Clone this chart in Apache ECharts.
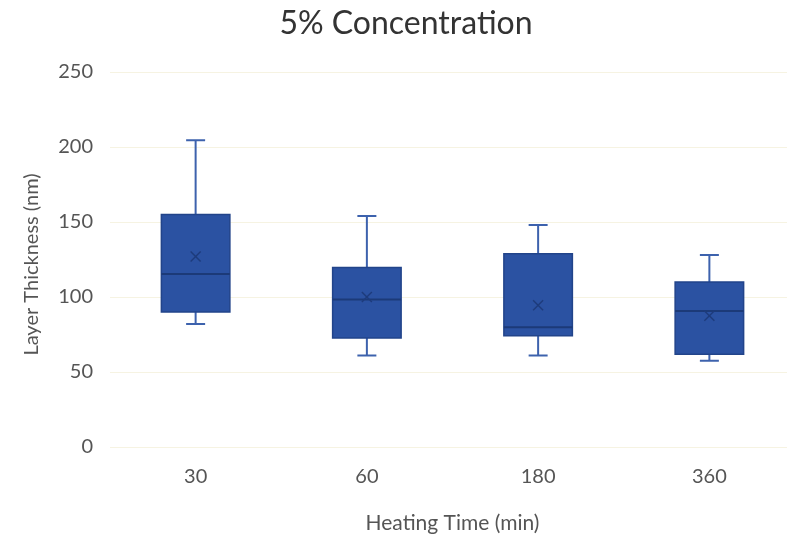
<!DOCTYPE html>
<html>
<head>
<meta charset="utf-8">
<script src="https://cdn.jsdelivr.net/npm/echarts@6/dist/echarts.min.js"></script>
<style>html,body{margin:0;padding:0;background:#fff;}#c{width:787px;height:538px;}</style>
</head>
<body>
<div id="c"></div>
<script>
const categories = ['30', '60', '180', '360'];
const whiskerLow = [82, 61, 61, 57.5];
const q1 = [90, 72.7, 74.2, 61.8];
const median = [115.3, 98.4, 79.8, 90.7];
const q3 = [155, 119.6, 128.9, 110];
const whiskerHigh = [204.5, 154, 148, 128];
const mean = [127, 100, 94.5, 87.5];
const yTicks = [0, 50, 100, 150, 200, 250];

const data = categories.map((c, i) => [i, whiskerLow[i], q1[i], median[i], q3[i], whiskerHigh[i], mean[i]]);

const chart = echarts.init(document.getElementById('c'));
const font = 'Lato, "Open Sans", sans-serif';
chart.setOption({
  animation: false,
  backgroundColor: '#fff',
  title: {
    text: '5% Concentration', left: 401, textAlign: 'center', top: 3,
    textStyle: { fontFamily: font, fontSize: 32, fontWeight: 'normal', color: '#333' }
  },
  grid: { left: 110, width: 685, top: 72, height: 375, outerBoundsMode: 'none', containLabel: false },
  xAxis: {
    type: 'category', data: categories,
    axisLine: { show: false }, axisTick: { show: false },
    axisLabel: { margin: 20, fontFamily: font, fontSize: 20, color: '#555' },
    name: 'Heating Time (min)', nameLocation: 'middle', nameGap: 66,
    nameTextStyle: { fontFamily: font, fontSize: 21, color: '#555' }
  },
  yAxis: {
    type: 'value', min: yTicks[0], max: yTicks[yTicks.length - 1], interval: 50,
    axisLine: { show: false }, axisTick: { show: false },
    axisLabel: { margin: 17, fontFamily: font, fontSize: 20, color: '#555' },
    splitLine: { lineStyle: { color: '#f6f3e2', width: 1 } },
    name: 'Layer Thickness (nm)', nameLocation: 'middle', nameGap: 68,
    nameTextStyle: { fontFamily: font, fontSize: 20, color: '#555', padding: [0, 10, 0, 0] }
  },
  series: [{
    type: 'custom',
    data: data,
    encode: { x: 0, y: [1, 2, 3, 4, 5, 6] },
    renderItem: function (params, api) {
      const idx = api.value(0);
      const cx = api.coord([idx, 0])[0];
      const bw = api.size([1, 0])[0] * 0.4;
      const cap = 19;
      const y = k => api.coord([idx, api.value(k)])[1];
      const yLow = y(1), yQ1 = y(2), yMed = y(3), yQ3 = y(4), yHigh = y(5), yMean = y(6);
      const wc = '#3d62ad';
      const ws = { stroke: wc, lineWidth: 2 };
      const m = 5;
      return {
        type: 'group',
        children: [
          { type: 'line', shape: { x1: cx, y1: yHigh, x2: cx, y2: yQ3 }, style: ws },
          { type: 'line', shape: { x1: cx - cap / 2, y1: yHigh, x2: cx + cap / 2, y2: yHigh }, style: ws },
          { type: 'line', shape: { x1: cx, y1: yLow, x2: cx, y2: yQ1 }, style: ws },
          { type: 'line', shape: { x1: cx - cap / 2, y1: yLow, x2: cx + cap / 2, y2: yLow }, style: ws },
          { type: 'rect', shape: { x: cx - bw / 2, y: yQ3, width: bw, height: yQ1 - yQ3 },
            style: { fill: '#2b52a2', stroke: '#22448a', lineWidth: 1.5 } },
          { type: 'line', shape: { x1: cx - bw / 2, y1: yMed, x2: cx + bw / 2, y2: yMed },
            style: { stroke: '#1c3a78', lineWidth: 2 } },
          { type: 'line', shape: { x1: cx - m, y1: yMean - m, x2: cx + m, y2: yMean + m },
            style: { stroke: '#1e3c7c', lineWidth: 1.5 } },
          { type: 'line', shape: { x1: cx - m, y1: yMean + m, x2: cx + m, y2: yMean - m },
            style: { stroke: '#1e3c7c', lineWidth: 1.5 } }
        ]
      };
    }
  }]
});
</script>
</body>
</html>
